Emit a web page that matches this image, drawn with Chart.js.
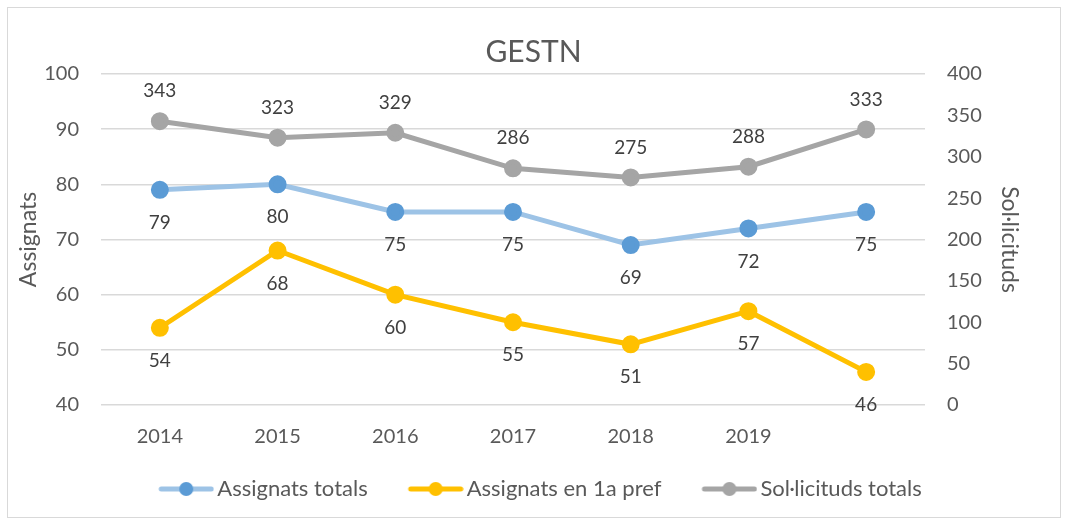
<!DOCTYPE html>
<html>
<head>
<meta charset="utf-8">
<script src="https://cdn.jsdelivr.net/npm/chart.js@4/dist/chart.umd.min.js"></script>
<style>
  html, body { margin: 0; padding: 0; background: #fff; }
  #wrap { width: 1067px; height: 524px; position: relative; }
</style>
</head>
<body>
<div id="wrap"><canvas id="chart"></canvas></div>
<script>
// data
const years = ['2014', '2015', '2016', '2017', '2018', '2019', ''];
const assignatsTotals = [79, 80, 75, 75, 69, 72, 75];
const assignatsPref = [54, 68, 60, 55, 51, 57, 46];
const solicitudsTotals = [343, 323, 329, 286, 275, 288, 333];

const FONT = 'Lato, "Liberation Sans", sans-serif';
const TXT = '#595959';

// line-with-dot swatch for the legend; blank space on the left so it sits
// right next to its text
function swatch(lineColor, dotColor) {
    const c = document.createElement('canvas');
    c.width = 77; c.height = 16;
    const g = c.getContext('2d');
    g.strokeStyle = lineColor;
    g.lineWidth = 5;
    g.lineCap = 'round';
    g.beginPath(); g.moveTo(24, 8); g.lineTo(74, 8); g.stroke();
    g.fillStyle = dotColor;
    g.beginPath(); g.arc(49, 8, 7, 0, Math.PI * 2); g.fill();
    return c;
}

const frame = {
    id: 'frame',
    beforeDraw(chart) {
        const ctx = chart.ctx;
        ctx.save();
        ctx.fillStyle = '#fff';
        ctx.fillRect(0, 0, chart.width, chart.height);
        ctx.strokeStyle = '#d9d9d9';
        ctx.lineWidth = 1;
        ctx.strokeRect(7.5, 7.5, 1053, 510);
        ctx.restore();
    }
};

const valueLabels = {
    id: 'valueLabels',
    afterDatasetsDraw(chart) {
        const ctx = chart.ctx;
        ctx.save();
        ctx.font = '19px ' + FONT;
        ctx.fillStyle = '#404040';
        ctx.textAlign = 'center';
        ctx.textBaseline = 'middle';
        chart.data.datasets.forEach((ds, i) => {
            const meta = chart.getDatasetMeta(i);
            meta.data.forEach((pt, j) => {
                ctx.fillText(ds.data[j], pt.x, pt.y + ds.labelOffset);
            });
        });
        ctx.restore();
    }
};

new Chart(document.getElementById('chart'), {
    type: 'line',
    data: {
        labels: years,
        datasets: [{
            label: 'Assignats totals',
            data: assignatsTotals,
            yAxisID: 'y',
            borderColor: '#9dc3e6',
            backgroundColor: '#5b9bd5',
            pointBackgroundColor: '#5b9bd5',
            pointBorderColor: '#5b9bd5',
            borderWidth: 5,
            pointRadius: 6.5,
            labelOffset: 33,
            legendIcon: swatch('#9dc3e6', '#5b9bd5')
        }, {
            label: 'Assignats en 1a pref',
            data: assignatsPref,
            yAxisID: 'y',
            borderColor: '#ffc000',
            backgroundColor: '#ffc000',
            pointBackgroundColor: '#ffc000',
            pointBorderColor: '#ffc000',
            borderWidth: 5,
            pointRadius: 6.5,
            labelOffset: 33,
            legendIcon: swatch('#ffc000', '#ffc000')
        }, {
            label: 'Sol·licituds totals',
            data: solicitudsTotals,
            yAxisID: 'y1',
            borderColor: '#a5a5a5',
            backgroundColor: '#a5a5a5',
            pointBackgroundColor: '#a5a5a5',
            pointBorderColor: '#a5a5a5',
            borderWidth: 5,
            pointRadius: 6.5,
            labelOffset: -30,
            legendIcon: swatch('#a5a5a5', '#a5a5a5')
        }]
    },
    options: {
        responsive: true,
        maintainAspectRatio: false,
        animation: false,
        layout: { padding: { top: 20, right: 0, bottom: 14, left: 0 } },
        plugins: {
            title: {
                display: true,
                text: 'GESTN',
                color: TXT,
                font: { family: FONT, size: 30, weight: 'normal', lineHeight: 1 },
                padding: { top: 17, bottom: 7 }
            },
            legend: {
                position: 'bottom',
                labels: {
                    usePointStyle: true,
                    pointStyleWidth: 61,
                    boxHeight: 16,
                    padding: 27,
                    color: TXT,
                    font: { family: FONT, size: 22 },
                    generateLabels(chart) {
                        return chart.data.datasets.map((ds, i) => ({
                            text: ds.label,
                            fillStyle: ds.backgroundColor,
                            strokeStyle: ds.borderColor,
                            lineWidth: 0,
                            pointStyle: ds.legendIcon,
                            fontColor: TXT,
                            hidden: false,
                            datasetIndex: i
                        }));
                    }
                }
            },
            tooltip: { enabled: false }
        },
        scales: {
            x: {
                offset: true,
                afterFit(s) { s.height = 46; },
                grid: { display: false, drawTicks: false },
                border: { display: false },
                ticks: { color: TXT, font: { family: FONT, size: 20 }, padding: 20 }
            },
            y: {
                position: 'left',
                min: 40, max: 100,
                afterFit(s) { s.width = 101; },
                grid: { color: '#d9d9d9', lineWidth: 1.5, drawTicks: false },
                border: { display: false },
                ticks: { stepSize: 10, color: TXT, font: { family: FONT, size: 20, lineHeight: 1 }, padding: 22 },
                title: { display: true, text: 'Assignats', color: TXT, font: { family: FONT, size: 23 }, padding: { top: 15, bottom: 0 } }
            },
            y1: {
                position: 'right',
                min: 0, max: 400,
                afterFit(s) { s.width = 142; },
                grid: { display: false, drawTicks: false },
                border: { display: false },
                ticks: { stepSize: 50, color: TXT, font: { family: FONT, size: 20, lineHeight: 1 }, padding: 22 },
                title: { display: true, text: 'Sol·licituds', color: TXT, font: { family: FONT, size: 23 }, padding: { top: 44, bottom: 0 } }
            }
        }
    },
    plugins: [frame, valueLabels]
});
</script>
</body>
</html>
